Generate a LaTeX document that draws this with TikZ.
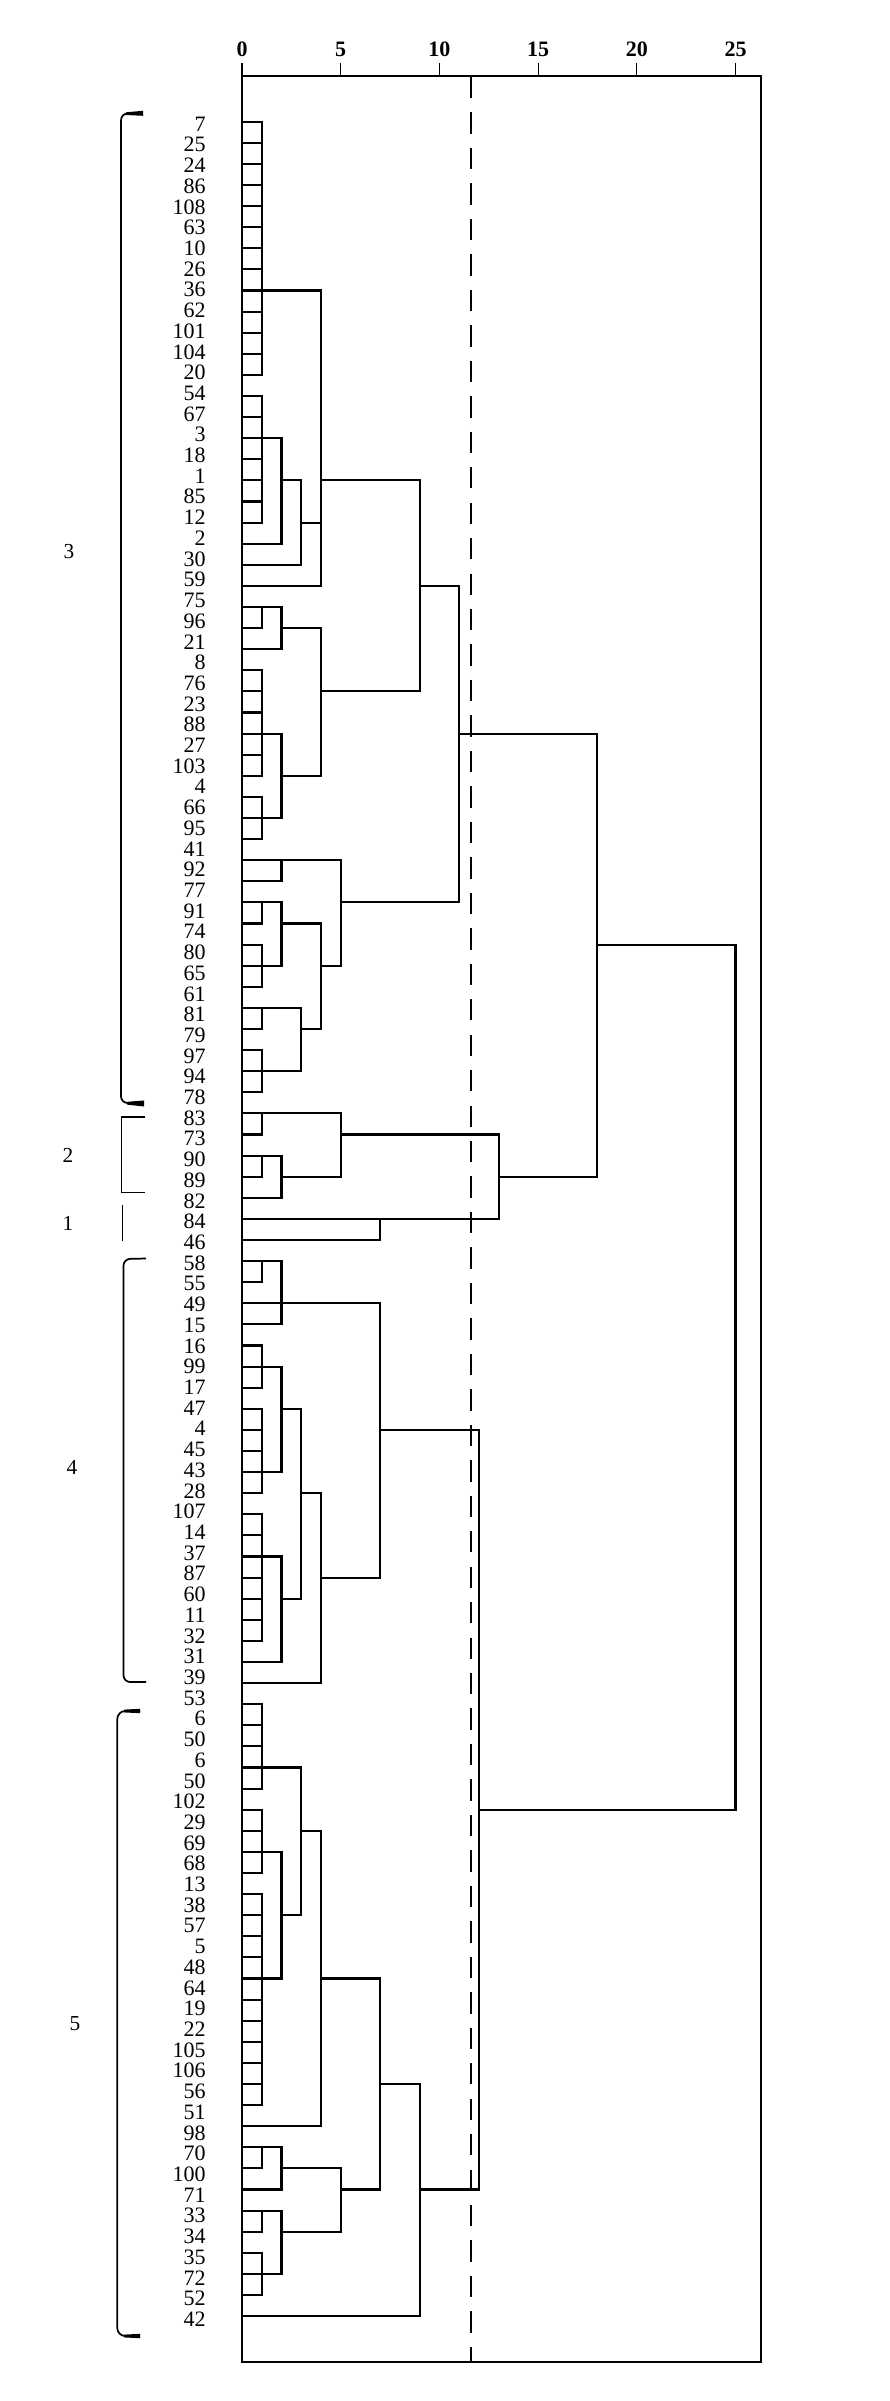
\documentclass[tikz,border=0pt]{standalone}
\usepackage{fontspec}
\setmainfont{Liberation Serif}
\begin{document}
\begin{tikzpicture}[x=0.75pt,y=-0.75pt,
  dl/.style={line width=1.6pt,line cap=rect},
  boxln/.style={line width=1.6pt},
  tickln/.style={line width=0.9pt},
  cutln/.style={line width=1.3pt,dash pattern=on 16pt off 10.6pt},
  brk/.style={line width=1.3pt},
  brkthin/.style={line width=1.1pt},
  lab/.style={anchor=east,inner sep=0pt,font=\fontsize{16.5}{18}\selectfont},
  axlab/.style={inner sep=0pt,font=\fontsize{16.5}{18}\selectfont\bfseries},
  clab/.style={inner sep=0pt,font=\fontsize{16}{18}\selectfont}]
\useasboundingbox (0,0) rectangle (889,2401);
\fill[white] (0,0) rectangle (889,2401);
% axis ticks and labels
\foreach \v [count=\k] in {0,5,10,15,20,25}{
  \draw[tickln] ({242+19.74*\v},63) -- ({242+19.74*\v},76);
  \node[axlab] (ax\k) at ({242+19.74*\v},49) {\v};
}
% box
\draw[boxln] (242,76) -- (761,76) -- (761,2362) -- (242,2362);
\draw[line width=2pt] (242,75) -- (242,2363);
% leaf labels
\foreach \t [count=\i] in {7,25,24,86,108,63,10,26,36,62,101,104,20,54,67,3,18,1,85,12,2,30,59,75,96,21,8,76,23,88,27,103,4,66,95,41,92,77,91,74,80,65,61,81,79,97,94,78,83,73,90,89,82,84,46,58,55,49,15,16,99,17,47,4,45,43,28,107,14,37,87,60,11,32,31,39,53,6,50,6,50,102,29,69,68,13,38,57,5,48,64,19,22,105,106,56,51,98,70,100,71,33,34,35,72,52,42}{
  \node[lab] (L\i) at (206,{124+(\i-1)*20.71}) {\t};
}
% cluster labels
\node[clab] (c3) at (69,552) {3};
\node[clab] (c2) at (68,1155) {2};
\node[clab] (c1) at (68,1223) {1};
\node[clab] (c4) at (72,1467) {4};
\node[clab] (c5) at (75,2024) {5};
% brackets
\draw[brk,rounded corners=5] (140,113.5) -- (121,113.5) -- (121,1103) -- (140,1103);
\fill (126,112.3) -- (143,110.8) -- (143,115.8) -- (126,115) -- cycle;
\fill (127,1101.8) -- (144,1100.5) -- (144,1106.5) -- (127,1104.6) -- cycle;
\draw[brkthin] (145,1117) -- (121.7,1117) -- (121.7,1192.7) -- (145,1192.7);
\draw[brkthin] (122.3,1205) -- (122.3,1241);
\draw[brk,rounded corners=5] (146,1258.5) -- (123.5,1259) -- (123.5,1682) -- (146,1682);
\draw[brk,rounded corners=6] (140,1711) -- (117.3,1711) -- (117.3,2336) -- (140,2336);
\fill (124,1709.6) -- (140,1708.8) -- (140,1713.2) -- (124,1712.4) -- cycle;
\fill (124,2334.6) -- (140,2333.8) -- (140,2338.2) -- (124,2337.4) -- cycle;
% dendrogram
\begin{scope}[xshift=181.5pt,yshift=-75.45pt,x=14.805pt,y=-15.825pt]
\newcommand\leafln[2]{\draw[dl] (0,#1) -- (#2,#1);}
\newcommand\combln[3]{\foreach \g in {#1,...,#2}{\draw[dl] (0,\g) -- (#3,\g);}\draw[dl] (#3,#1) -- (#3,#2);}
\newcommand\hseg[3]{\draw[dl] (#2,#1) -- (#3,#1);}
\newcommand\vseg[3]{\draw[dl] (#1,#2) -- (#1,#3);}
% cluster 3
\combln{1}{13}{1} \hseg{9}{1}{4}
\combln{14}{20}{1} \hseg{16}{1}{2}
\leafln{21}{2} \vseg{2}{16}{21} \hseg{18}{2}{3}
\leafln{22}{3} \vseg{3}{18}{22} \hseg{20}{3}{4}
\leafln{23}{4} \vseg{4}{9}{23} \hseg{18}{4}{9}
\combln{24}{25}{1} \hseg{24}{1}{2} \leafln{26}{2} \vseg{2}{24}{26} \hseg{25}{2}{4}
\combln{27}{32}{1} \hseg{30}{1}{2} \combln{33}{35}{1} \hseg{34}{1}{2} \vseg{2}{30}{34} \hseg{32}{2}{4}
\vseg{4}{25}{32} \hseg{28}{4}{9}
\vseg{9}{18}{28} \hseg{23}{9}{11}
\combln{36}{37}{2} \hseg{36}{2}{5}
\combln{38}{39}{1} \hseg{38}{1}{2} \combln{40}{42}{1} \hseg{41}{1}{2} \vseg{2}{38}{41} \hseg{39}{2}{4}
\combln{43}{44}{1} \hseg{43}{1}{3} \combln{45}{47}{1} \hseg{46}{1}{3} \vseg{3}{43}{46} \hseg{44}{3}{4}
\vseg{4}{39}{44} \hseg{41}{4}{5}
\vseg{5}{36}{41} \hseg{38}{5}{11}
\vseg{11}{23}{38} \hseg{30}{11}{18}
% clusters 2 and 1
\combln{48}{49}{1} \hseg{48}{1}{5}
\combln{50}{51}{1} \hseg{50}{1}{2} \leafln{52}{2} \vseg{2}{50}{52} \hseg{51}{2}{5}
\vseg{5}{48}{51} \hseg{49}{5}{13}
\combln{53}{54}{7} \hseg{53}{7}{13}
\vseg{13}{49}{53} \hseg{51}{13}{18}
\vseg{18}{30}{51} \hseg{40}{18}{25}
% cluster 4
\combln{55}{56}{1} \hseg{55}{1}{2} \leafln{57}{2} \leafln{58}{2} \vseg{2}{55}{58} \hseg{57}{2}{7}
\combln{59}{61}{1} \hseg{60}{1}{2} \combln{62}{66}{1} \hseg{65}{1}{2} \vseg{2}{60}{65} \hseg{62}{2}{3}
\combln{67}{73}{1} \hseg{69}{1}{2} \leafln{74}{2} \vseg{2}{69}{74} \hseg{71}{2}{3}
\vseg{3}{62}{71} \hseg{66}{3}{4}
\leafln{75}{4} \vseg{4}{66}{75} \hseg{70}{4}{7}
\vseg{7}{57}{70} \hseg{63}{7}{12}
% cluster 5
\combln{76}{80}{1} \hseg{79}{1}{3}
\combln{81}{84}{1} \hseg{83}{1}{2} \combln{85}{95}{1} \hseg{89}{1}{2} \vseg{2}{83}{89} \hseg{86}{2}{3}
\vseg{3}{79}{86} \hseg{82}{3}{4}
\leafln{96}{4} \vseg{4}{82}{96} \hseg{89}{4}{7}
\combln{97}{98}{1} \hseg{97}{1}{2} \leafln{99}{2} \vseg{2}{97}{99} \hseg{98}{2}{5}
\combln{100}{101}{1} \hseg{100}{1}{2} \combln{102}{104}{1} \hseg{103}{1}{2} \vseg{2}{100}{103} \hseg{101}{2}{5}
\vseg{5}{98}{101} \hseg{99}{5}{7}
\vseg{7}{89}{99} \hseg{94}{7}{9}
\leafln{105}{9} \vseg{9}{94}{105} \hseg{99}{9}{12}
\vseg{12}{63}{99} \hseg{81}{12}{25}
\vseg{25}{40}{81}
\end{scope}
% cut line
\draw[cutln] (470.7,77) -- (470.7,2362);
\end{tikzpicture}
\end{document}
